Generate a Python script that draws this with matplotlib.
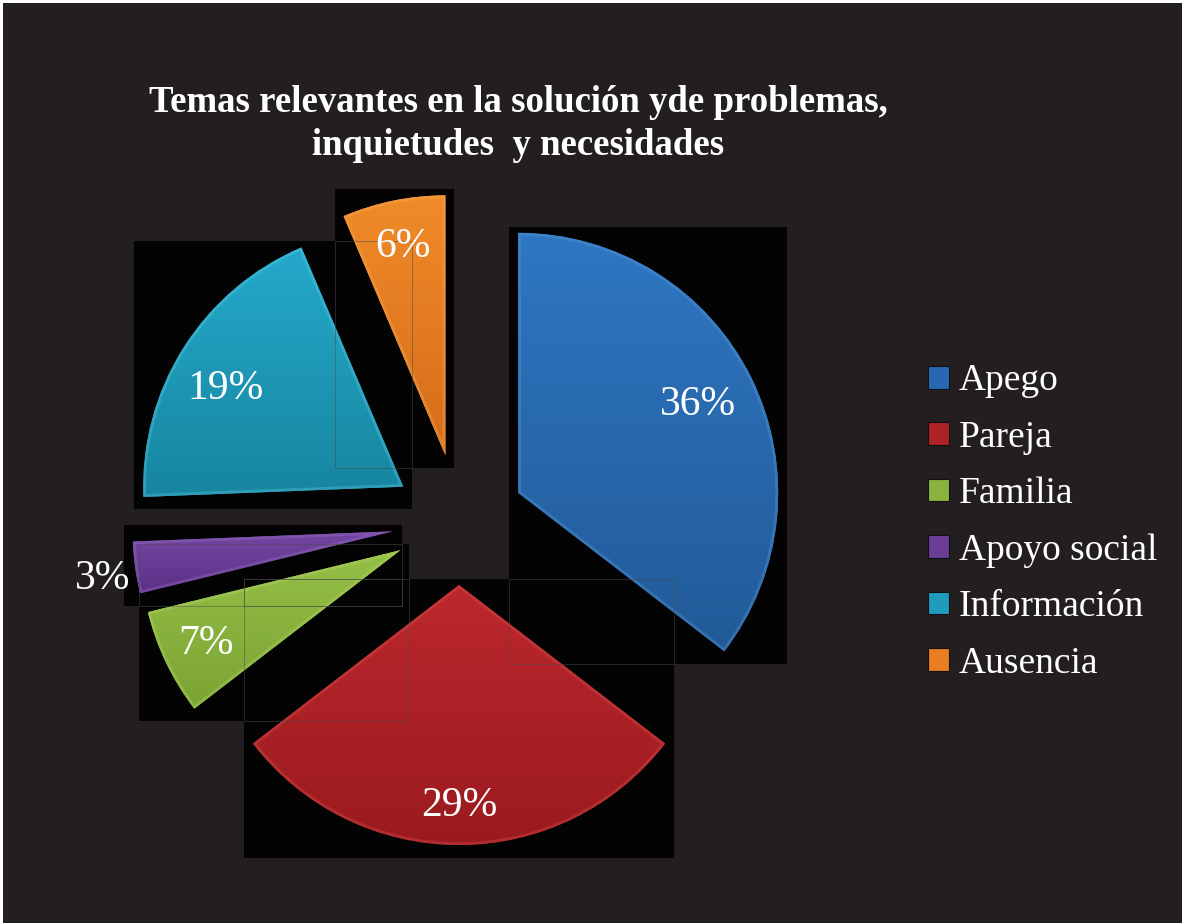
import numpy as np
import matplotlib
matplotlib.use("Agg")
import matplotlib.pyplot as plt
from matplotlib.patches import Rectangle, Patch, PathPatch
from matplotlib.colors import LinearSegmentedColormap

# ---- data ----
categories = ["Apego", "Pareja", "Familia", "Apoyo social", "Información", "Ausencia"]
values = [35.4, 29.1, 6.6, 3.2, 19.2, 6.4]          # slice sizes measured from the angles
pct_labels = ["36%", "29%", "7%", "3%", "19%", "6%"]  # labels as printed on the chart
title_lines = ["Temas relevantes en la solución yde problemas,",
               "inquietudes  y necesidades"]

# ---- style ----
colors_base = ["#2868b0", "#ad2127", "#8ab33e", "#6a3d96", "#1e9bbd", "#e87d22"]
colors_top = ["#2e77c2", "#bc282d", "#95c046", "#7446a3", "#24a9cb", "#f08b29"]
colors_bottom = ["#225a98", "#9a1a1f", "#7ba334", "#5b3287", "#17869f", "#d56c1a"]
colors_rim = ["#5a9ad8", "#d9504f", "#b4d86a", "#9a70c4", "#5ccbe3", "#f8ac58"]
explode = [66, 63, 65, 67, 66, 68]
label_dist = [0.77, 0.85, 0.83, 1.13, 0.78, 0.82]
label_turn = [0, 0, 0, 1.2, 3.5, 0]   # degrees, small rotation of label position

W, H = 1182, 923
BG = "#231f20"
SERIF = ["Liberation Serif", "DejaVu Serif"]

fig = plt.figure(figsize=(W / 100, H / 100), dpi=100, facecolor=BG)
ax = fig.add_axes([0, 0, 1, 1])
ax.set_facecolor(BG)

wedges, _ = ax.pie(values, startangle=90, counterclock=False, colors=colors_base,
                   explode=explode, radius=260, center=(459, 401), frame=False,
                   wedgeprops=dict(linewidth=0, zorder=3))
ax.set_xlim(0, W)
ax.set_ylim(0, H)
ax.set_aspect("equal")
ax.axis("off")

# thin white border on top and left
ax.add_patch(Rectangle((0, H - 3), W, 3, facecolor="white", edgecolor="none", zorder=10))
ax.add_patch(Rectangle((0, 0), 3, H, facecolor="white", edgecolor="none", zorder=10))

# black shadow boxes behind every slice
boxes = []
for w in wedges:
    bb = w.get_path().get_extents()
    x0, y0 = bb.x0 - 9, bb.y0 - 12.5
    x1, y1 = bb.x1 + 9, bb.y1 + 6
    boxes.append((x0, y0, x1, y1))
    ax.add_patch(Rectangle((x0, y0), x1 - x0, y1 - y0, facecolor="#030303",
                           edgecolor="none", zorder=1))
# faint outlines where the shadow boxes overlap
for i in range(len(boxes)):
    for j in range(i + 1, len(boxes)):
        a, b = boxes[i], boxes[j]
        ix0, iy0 = max(a[0], b[0]), max(a[1], b[1])
        ix1, iy1 = min(a[2], b[2]), min(a[3], b[3])
        if ix1 > ix0 and iy1 > iy0:
            ax.add_patch(Rectangle((ix0, iy0), ix1 - ix0, iy1 - iy0, facecolor="none",
                                   edgecolor="#4a4a4a", lw=0.7, alpha=0.5, zorder=5))

# gradient fill and bevel rim for each slice
grad = np.linspace(1, 0, 256).reshape(-1, 1)
for w, ct, cb, cr in zip(wedges, colors_top, colors_bottom, colors_rim):
    bb = w.get_path().get_extents()
    cmap = LinearSegmentedColormap.from_list("g", [cb, ct])
    im = ax.imshow(grad, cmap=cmap, extent=(bb.x0, bb.x1, bb.y0, bb.y1),
                   aspect="auto", zorder=3.5, origin="upper", interpolation="bilinear")
    im.set_clip_path(w)
    rim = PathPatch(w.get_path(), facecolor="none", edgecolor=cr, lw=4, alpha=0.35, zorder=4)
    ax.add_patch(rim)
    rim.set_clip_path(w)

ax.set_xlim(0, W)
ax.set_ylim(0, H)

# percentage labels
for w, lab, d, t in zip(wedges, pct_labels, label_dist, label_turn):
    cx, cy = w.center
    tm = np.deg2rad(0.5 * (w.theta1 + w.theta2) + t)
    ax.text(cx + d * w.r * np.cos(tm), cy + d * w.r * np.sin(tm), lab,
            ha="center", va="center", color="white", fontsize=30,
            family=SERIF, zorder=6)

# title
fig.text(518 / W, 1 - 112 / H, title_lines[0], ha="center", va="baseline",
         color="white", fontsize=26.5, fontweight="bold", family=SERIF)
fig.text(518 / W, 1 - 155 / H, title_lines[1], ha="center", va="baseline",
         color="white", fontsize=26.5, fontweight="bold", family=SERIF)

# legend
handles = [Patch(facecolor=c, edgecolor="#111111", lw=0.8) for c in colors_base]
leg = ax.legend(handles, categories, loc="upper left",
                bbox_to_anchor=(928 / W, 1 - 364 / H), frameon=False,
                prop={"family": SERIF, "size": 27}, labelcolor="white",
                handlelength=0.55, handleheight=0.55, handletextpad=0.28,
                labelspacing=0.585, borderpad=0, borderaxespad=0)

fig.savefig("out.png", dpi=100, facecolor=BG)
